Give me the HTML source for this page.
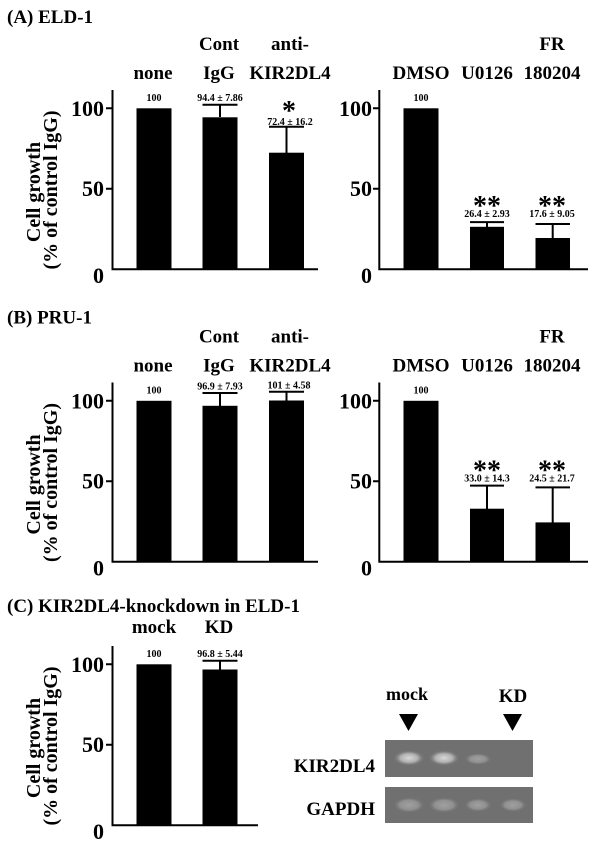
<!DOCTYPE html>
<html><head><style>
html,body{margin:0;padding:0;background:#fff;}
svg{display:block;font-family:"Liberation Serif",serif;font-weight:bold;}
</style></head><body>
<svg width="600" height="842" viewBox="0 0 600 842" xmlns="http://www.w3.org/2000/svg">
<defs>
<g id="axL">
<path d="M112.5 90 V269.3 H318 M106 108.3 H112.5 M106 188.8 H112.5" stroke="#000" stroke-width="2" fill="none"/>
<text x="104" y="116" font-size="22" text-anchor="end">100</text>
<text x="104" y="196" font-size="22" text-anchor="end">50</text>
<text x="104" y="283" font-size="22" text-anchor="end">0</text>
<g transform="translate(33,192) rotate(-90)"><text x="0" y="7" font-size="20" text-anchor="middle">Cell growth</text></g>
<g transform="translate(50,190) rotate(-90)"><text x="0" y="7" font-size="20" text-anchor="middle">(% of control IgG)</text></g>
</g>
<g id="axR">
<path d="M379.3 90 V269.3 H588 M373 108.3 H379.3 M373 188.8 H379.3" stroke="#000" stroke-width="2" fill="none"/>
<text x="372" y="116" font-size="22" text-anchor="end">100</text>
<text x="372" y="196" font-size="22" text-anchor="end">50</text>
<text x="372" y="283" font-size="22" text-anchor="end">0</text>
</g>
<radialGradient id="band" cx="50%" cy="50%" r="50%">
<stop offset="0" stop-color="#d8d8d8"/><stop offset="0.55" stop-color="#b0b0b0"/><stop offset="1" stop-color="#707070" stop-opacity="0"/>
</radialGradient>
<radialGradient id="bandw" cx="50%" cy="50%" r="50%">
<stop offset="0" stop-color="#a0a0a0"/><stop offset="0.6" stop-color="#909090"/><stop offset="1" stop-color="#707070" stop-opacity="0"/>
</radialGradient>
</defs>

<!-- Panel A -->
<text x="7" y="23" font-size="19">(A) ELD-1</text>
<g font-size="19" text-anchor="middle">
<text x="153" y="79">none</text>
<text x="219" y="50">Cont</text><text x="219" y="79">IgG</text>
<text x="290" y="50">anti-</text><text x="290" y="79">KIR2DL4</text>
<text x="421" y="79">DMSO</text><text x="487" y="79">U0126</text>
<text x="552" y="50">FR</text><text x="552" y="79">180204</text>
</g>
<use href="#axL"/><use href="#axR"/>
<g fill="#000">
<rect x="136.5" y="108.3" width="35" height="161"/>
<rect x="202.5" y="117.3" width="35" height="152"/>
<rect x="269" y="152.7" width="35" height="116.6"/>
<rect x="403.5" y="108.3" width="35" height="161"/>
<rect x="470" y="226.8" width="34" height="42.5"/>
<rect x="535.5" y="238" width="34.5" height="31.3"/>
</g>
<path d="M220 117 V104.7 M202.5 104.7 H237.5 M286.5 153 V126.7 M269 126.7 H304 M487 227 V222.1 M470 222.1 H504 M552.7 238 V224 M535.5 224 H570" stroke="#000" stroke-width="2"/>
<g font-size="10" text-anchor="middle">
<text x="154" y="101">100</text>
<text x="220" y="101">94.4 ± 7.86</text>
<text x="290" y="125">72.4 ± 16.2</text>
<text x="421" y="101">100</text>
<text x="487" y="217">26.4 ± 2.93</text>
<text x="552" y="217">17.6 ± 9.05</text>
</g>
<g font-size="28" text-anchor="middle">
<text x="289" y="120">*</text>
<text x="487" y="215">**</text>
<text x="552" y="215">**</text>
</g>

<!-- Panel B -->
<g transform="translate(0,292.5)">
<text x="7" y="31" font-size="19">(B) PRU-1</text>
<g font-size="19" text-anchor="middle">
<text x="153" y="79">none</text>
<text x="219" y="50">Cont</text><text x="219" y="79">IgG</text>
<text x="290" y="50">anti-</text><text x="290" y="79">KIR2DL4</text>
<text x="421" y="79">DMSO</text><text x="487" y="79">U0126</text>
<text x="552" y="50">FR</text><text x="552" y="79">180204</text>
</g>
<use href="#axL"/><use href="#axR"/>
<g fill="#000">
<rect x="136.5" y="108.3" width="35" height="161"/>
<rect x="202.5" y="113.3" width="35" height="156"/>
<rect x="269" y="108" width="35" height="161.3"/>
<rect x="403.5" y="108.3" width="35" height="161"/>
<rect x="470" y="216.2" width="34" height="53.1"/>
<rect x="535.5" y="229.9" width="34.5" height="39.4"/>
</g>
<path d="M220 114 V100.5 M202.5 100.5 H237.5 M286.5 108 V99.3 M269 99.3 H304 M487 217 V193.1 M470 193.1 H504 M552.7 230 V194.9 M535.5 194.9 H570" stroke="#000" stroke-width="2"/>
<g font-size="10" text-anchor="middle">
<text x="154" y="101">100</text>
<text x="220" y="97">96.9 ± 7.93</text>
<text x="289" y="96">101 ± 4.58</text>
<text x="421" y="101">100</text>
<text x="487" y="189">33.0 ± 14.3</text>
<text x="552" y="189">24.5 ± 21.7</text>
</g>
<g font-size="28" text-anchor="middle">
<text x="487" y="187">**</text>
<text x="552" y="187">**</text>
</g>
</g>

<!-- Panel C -->
<text x="7" y="612" font-size="19">(C) KIR2DL4-knockdown in ELD-1</text>
<g transform="translate(0,556)">
<g font-size="19" text-anchor="middle">
<text x="154" y="77">mock</text>
<text x="219" y="77">KD</text>
</g>
<path d="M112.5 90 V269.3 H258 M106 108.3 H112.5 M106 188.8 H112.5" stroke="#000" stroke-width="2" fill="none"/>
<text x="104" y="116" font-size="22" text-anchor="end">100</text>
<text x="104" y="196" font-size="22" text-anchor="end">50</text>
<text x="104" y="283" font-size="22" text-anchor="end">0</text>
<g transform="translate(33,192) rotate(-90)"><text x="0" y="7" font-size="20" text-anchor="middle">Cell growth</text></g>
<g transform="translate(50,190) rotate(-90)"><text x="0" y="7" font-size="20" text-anchor="middle">(% of control IgG)</text></g>
<rect x="136.5" y="108.3" width="35" height="161"/>
<rect x="202.5" y="113.5" width="35" height="155.8"/>
<path d="M220 114 V104.7 M202.5 104.7 H237.5" stroke="#000" stroke-width="2"/>
<g font-size="10" text-anchor="middle">
<text x="154" y="101">100</text>
<text x="220" y="101">96.8 ± 5.44</text>
</g>
</g>

<!-- Gel -->
<text x="407" y="700" font-size="18" text-anchor="middle">mock</text>
<text x="513" y="702" font-size="19" text-anchor="middle">KD</text>
<path d="M399 714 H418 L408.5 731 Z M503 714 H522 L512.5 731 Z" fill="#000"/>
<text x="375" y="772" font-size="19" text-anchor="end">KIR2DL4</text>
<text x="375" y="815" font-size="19" text-anchor="end">GAPDH</text>
<rect x="385" y="740" width="148" height="37" fill="#707070"/>
<rect x="385" y="787" width="148" height="36" fill="#707070"/>
<ellipse cx="409" cy="758" rx="16" ry="8" fill="url(#band)"/>
<ellipse cx="444" cy="758" rx="16" ry="8" fill="url(#band)"/>
<ellipse cx="478" cy="759" rx="14" ry="6" fill="url(#bandw)"/>
<ellipse cx="409" cy="805" rx="16" ry="8" fill="url(#bandw)"/>
<ellipse cx="444" cy="805" rx="16" ry="8" fill="url(#bandw)"/>
<ellipse cx="478" cy="805" rx="14" ry="7" fill="url(#bandw)"/>
<ellipse cx="513" cy="805" rx="14" ry="7" fill="url(#bandw)"/>
</svg>
</body></html>
